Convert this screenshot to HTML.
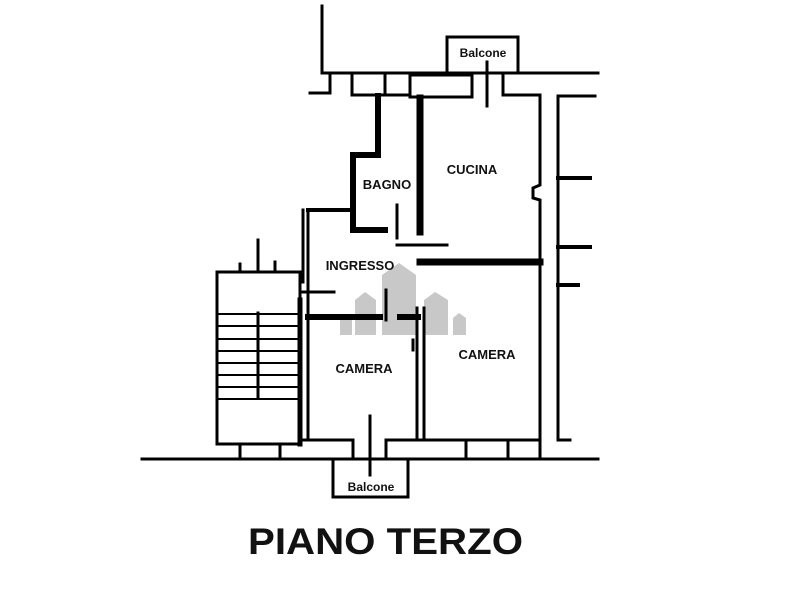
<!DOCTYPE html>
<html><head><meta charset="utf-8"><style>
html,body{margin:0;padding:0;background:#fff;}
svg{display:block;}
text{font-family:"Liberation Sans",Arial,sans-serif;font-weight:bold;fill:#111;}
</style></head><body>
<svg width="800" height="600" viewBox="0 0 800 600" xmlns="http://www.w3.org/2000/svg">
<g fill="#c8c8c8">
<polygon points="382,295 382,275 399,263 416,275 416,335 382,335"/>
<polygon points="355,335 355,300 365,292 376,300 376,335"/>
<polygon points="424,335 424,300 435,292 448,300 448,335"/>
<polygon points="340,335 340,320 346,315 352,320 352,335"/>
<polygon points="453,335 453,318 459,313 466,318 466,335"/>
</g>
<g stroke="#000" fill="none" stroke-width="3" stroke-linecap="square">
<line x1="322" y1="6" x2="322" y2="73"/>
<line x1="322" y1="73" x2="598" y2="73"/>
<polyline points="447,73 447,37 518,37 518,73"/>
<line x1="310" y1="93" x2="330" y2="93"/>
<line x1="330" y1="73" x2="330" y2="93"/>
<rect x="352" y="73" width="33" height="22"/>
<rect x="410" y="75" width="62" height="22"/>
<line x1="385" y1="95" x2="410" y2="95"/>
<line x1="487" y1="62" x2="487" y2="106"/>
<polyline points="503,73 503,95 540,95 540,185 533,188 533,198 540,200 540,440"/>
<polyline points="595,96 558,96 558,440"/>
<line x1="558" y1="178" x2="590" y2="178" stroke-width="4"/>
<line x1="558" y1="247" x2="590" y2="247" stroke-width="4"/>
<line x1="558" y1="285" x2="578" y2="285" stroke-width="4"/>
<polyline points="378,96 378,155 353,155 353,230 385,230" stroke-width="6"/>
<line x1="420" y1="98" x2="420" y2="232" stroke-width="7"/>
<line x1="308" y1="210" x2="353" y2="210" stroke-width="4"/>
<line x1="308" y1="210" x2="308" y2="440"/>
<line x1="397" y1="205" x2="397" y2="238"/>
<line x1="397" y1="245" x2="447" y2="245"/>
<line x1="420" y1="262" x2="540" y2="262" stroke-width="7"/>
<line x1="303" y1="292" x2="334" y2="292" stroke-width="3"/>
<line x1="308" y1="317" x2="380" y2="317" stroke-width="6"/>
<line x1="400" y1="317" x2="418" y2="317" stroke-width="6"/>
<line x1="386" y1="290" x2="386" y2="320"/>
<line x1="417" y1="308" x2="417" y2="440"/>
<line x1="424" y1="308" x2="424" y2="440"/>
<line x1="413" y1="340" x2="413" y2="350"/>
<rect x="217" y="272" width="83" height="172"/>
<line x1="300" y1="300" x2="300" y2="444" stroke-width="5"/>
<line x1="258" y1="313" x2="258" y2="398"/>
<g stroke-width="2">
<line x1="217" y1="314" x2="298" y2="314"/>
<line x1="217" y1="326" x2="298" y2="326"/>
<line x1="217" y1="339" x2="298" y2="339"/>
<line x1="217" y1="351" x2="298" y2="351"/>
<line x1="217" y1="363" x2="298" y2="363"/>
<line x1="217" y1="375" x2="298" y2="375"/>
<line x1="217" y1="387" x2="298" y2="387"/>
<line x1="217" y1="399" x2="298" y2="399"/>
</g>
<line x1="258" y1="240" x2="258" y2="272"/>
<line x1="240" y1="264" x2="240" y2="272"/>
<line x1="275" y1="262" x2="275" y2="272"/>
<line x1="300" y1="272" x2="300" y2="282"/>
<line x1="303" y1="282" x2="303" y2="210"/>
<line x1="142" y1="459" x2="598" y2="459"/>
<line x1="300" y1="440" x2="353" y2="440"/>
<line x1="386" y1="440" x2="540" y2="440"/>
<line x1="240" y1="444" x2="240" y2="459"/>
<line x1="280" y1="444" x2="280" y2="459"/>
<line x1="353" y1="440" x2="353" y2="459"/>
<line x1="386" y1="440" x2="386" y2="459"/>
<line x1="466" y1="440" x2="466" y2="459"/>
<line x1="508" y1="440" x2="508" y2="459"/>
<line x1="540" y1="440" x2="540" y2="459"/>
<line x1="558" y1="440" x2="570" y2="440"/>
<line x1="370" y1="416" x2="370" y2="475"/>
<polyline points="333,459 333,497 408,497 408,459"/>
</g>
<text x="483" y="57" font-size="12" text-anchor="middle">Balcone</text>
<text x="371" y="491" font-size="12" text-anchor="middle">Balcone</text>
<text x="387" y="189" font-size="13" text-anchor="middle">BAGNO</text>
<text x="472" y="174" font-size="13" text-anchor="middle">CUCINA</text>
<text x="360" y="270" font-size="13" text-anchor="middle">INGRESSO</text>
<text x="364" y="373" font-size="13" text-anchor="middle">CAMERA</text>
<text x="487" y="359" font-size="13" text-anchor="middle">CAMERA</text>
<text x="248" y="554" font-size="37" textLength="275" lengthAdjust="spacingAndGlyphs">PIANO TERZO</text>
</svg>
</body></html>
